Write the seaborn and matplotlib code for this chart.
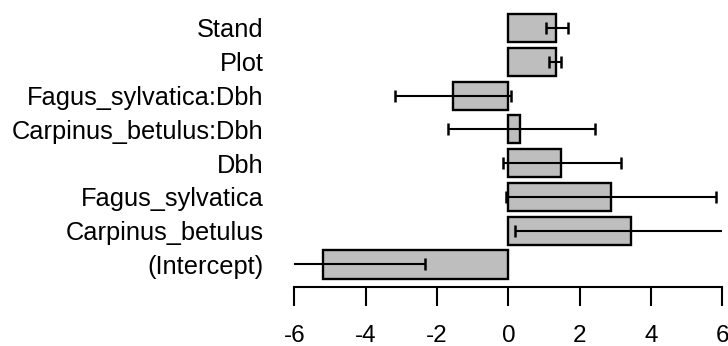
import numpy as np
import pandas as pd
import seaborn as sns
import matplotlib
matplotlib.use('Agg')
import matplotlib.pyplot as plt

# == Data == #
terms = ['Stand', 'Plot', 'Fagus_sylvatica:Dbh', 'Carpinus_betulus:Dbh',
         'Dbh', 'Fagus_sylvatica', 'Carpinus_betulus', '(Intercept)']
estimate = [1.34, 1.34, -1.56, 0.34, 1.48, 2.89, 3.45, -5.19]
ci_low = [1.06, 1.14, -3.17, -1.68, -0.14, -0.06, 0.20, -8.04]
ci_high = [1.68, 1.48, 0.06, 2.42, 3.17, 5.83, 6.70, -2.34]
xticks = [-6, -4, -2, 0, 2, 4, 6]

df = pd.DataFrame({'term': terms, 'estimate': estimate,
                   'low': ci_low, 'high': ci_high})

sns.set_style('white')
plt.rcParams['font.family'] = ['Liberation Sans', 'DejaVu Sans']

fig = plt.figure(figsize=(7.28, 3.46), dpi=100)
ax = fig.add_axes([0.4043, 0.1697, 0.588, 0.8153])

sns.barplot(data=df, x='estimate', y='term', orient='h', color='#BEBEBE',
            saturation=1, edgecolor='black', linewidth=1.7, width=0.83, ax=ax)

# confidence intervals, clipped at the axis limits like the original
ypos = np.arange(len(df))
ax.errorbar(df['estimate'], ypos,
            xerr=[df['estimate'] - df['low'], df['high'] - df['estimate']],
            fmt='none', ecolor='black', elinewidth=1.5, capsize=4.3, capthick=1.8)

ax.set_xlim(-6, 6)
ax.set_ylim(7.675, -0.675)
ax.set_xticks(xticks)
ax.set_xticklabels([str(t) for t in xticks])
ax.set_xlabel('')
ax.set_ylabel('')

for s in ['top', 'right', 'left']:
    ax.spines[s].set_visible(False)
ax.spines['bottom'].set_linewidth(1.5)
ax.spines['bottom'].set_color('black')

ax.tick_params(axis='x', length=13.5, width=1.5, direction='out', pad=14,
               labelsize=17.5, colors='black', bottom=True)
ax.tick_params(axis='y', length=0, pad=22, labelsize=18.3, labelcolor='black')

fig.savefig('out.png', dpi=100)
